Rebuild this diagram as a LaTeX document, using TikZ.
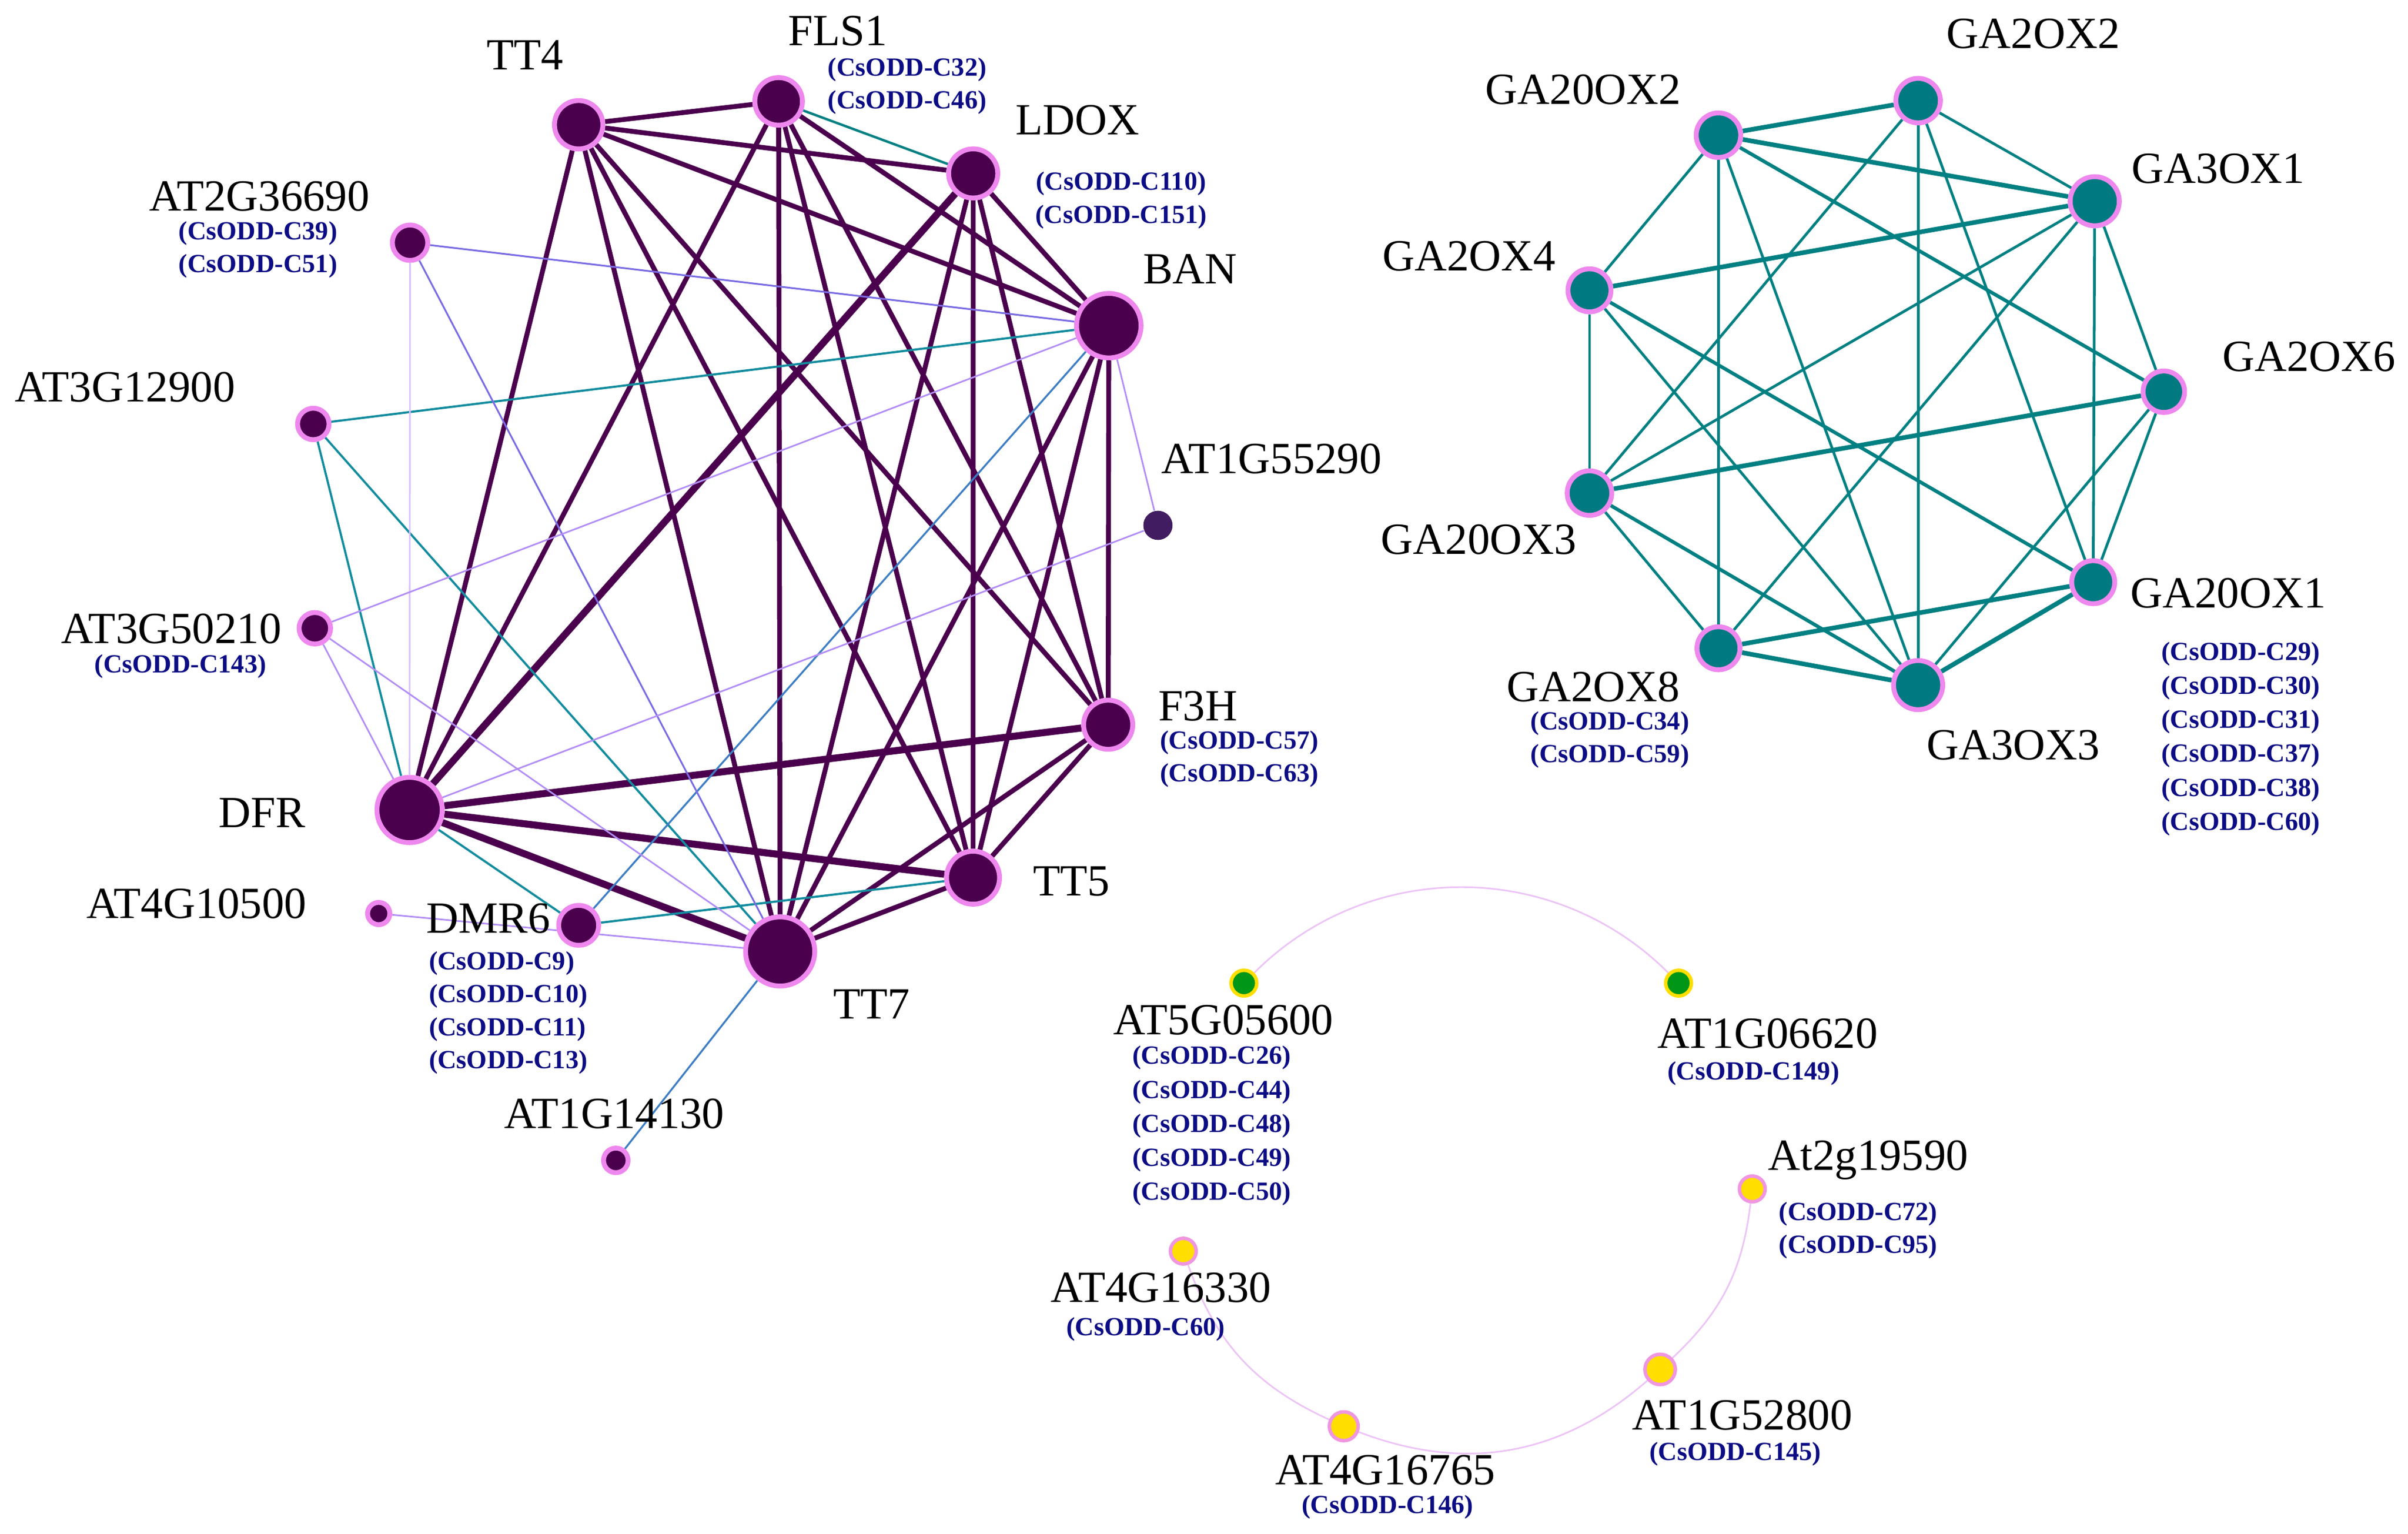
\documentclass[tikz,border=0pt]{standalone}
\usepackage{fontspec}
\setmainfont{Liberation Serif}
\usetikzlibrary{positioning}

\definecolor{plum}{RGB}{75,0,78}
\definecolor{plumlite}{RGB}{66,28,96}
\definecolor{orchid}{RGB}{238,136,238}
\definecolor{gateal}{RGB}{0,122,128}
\definecolor{galine}{RGB}{0,128,130}
\definecolor{tealline}{RGB}{18,140,158}
\definecolor{steel}{RGB}{62,126,196}
\definecolor{violetline}{RGB}{122,108,228}
\definecolor{lavline}{RGB}{178,142,246}
\definecolor{palelav}{RGB}{216,192,255}
\definecolor{leafgreen}{RGB}{0,150,24}
\definecolor{sun}{RGB}{255,222,0}
\definecolor{ringpink}{RGB}{240,150,225}
\definecolor{ringline}{RGB}{236,196,246}
\definecolor{navy}{RGB}{12,12,132}

\pgfdeclarelayer{bg}
\pgfsetlayers{bg,main}

\tikzset{
  gene/.style={circle, inner sep=0pt, fill=plum, draw=orchid, line width=1.8pt, minimum size=#1},
  ga/.style={gene=#1, fill=gateal},
  lone/.style={circle, inner sep=0pt, fill=plumlite, minimum size=#1},
  seed/.style={circle, inner sep=0pt, fill=leafgreen, draw=sun, line width=1.3pt, minimum size=#1},
  bud/.style={circle, inner sep=0pt, fill=sun, draw=ringpink, line width=1.3pt, minimum size=#1},
  lbl/.style={inner sep=0pt, text depth=0pt, font=\fontsize{16.5}{18}\selectfont},
  ids/.style={inner sep=0pt, align=center, text=navy, font=\fontsize{9.7}{12.2}\selectfont\bfseries},
  strong/.style={draw=plum, line width=1.8pt},
  heavy/.style={draw=plum, line width=2.6pt},
  tealedge/.style={draw=tealline, line width=0.8pt},
  steeledge/.style={draw=steel, line width=0.7pt},
  violetedge/.style={draw=violetline, line width=0.65pt},
  lavedge/.style={draw=lavline, line width=0.6pt},
  paleedge/.style={draw=palelav, line width=0.6pt},
  gathin/.style={draw=galine, line width=1pt},
  gamid/.style={draw=galine, line width=1.3pt},
  gabold/.style={draw=galine, line width=1.7pt},
  ringedge/.style={draw=ringline, line width=0.6pt}
}

\begin{document}
\begin{tikzpicture}[x=0.2mm, y=-0.2mm]
\useasboundingbox (0,0) rectangle (1568,998.6);

% flavonoid network
\foreach \n/\x/\y/\d in {TT4/376.8/81.2/6.3mm, FLS1/507/66/6.2mm, LDOX/633.7/112.9/6.4mm,
    BAN/722/212/8.4mm, F3H/721.6/471.8/6.4mm, TT5/633.6/571.4/6.9mm, TT7/508/619.4/9mm,
    DFR/266.7/527.3/8.5mm, DMR6/376.8/602.4/5.2mm, AT4G10500/246.6/594.7/2.9mm,
    AT1G14130/401/755.4/3.2mm, AT3G50210/205/409/4.1mm, AT3G12900/204/276/4.1mm,
    AT2G36690/267/158/4.6mm}
  \node[gene=\d] (\n) at (\x,\y) {};
\node[lone=3.8mm] (AT1G55290) at (754,342) {};

% gibberellin network
\foreach \n/\x/\y/\d in {GA20OX2/1119/88/5.8mm, GA2OX2/1249/65.5/5.8mm, GA3OX1/1364/131/6.4mm,
    GA2OX4/1035/189/5.6mm, GA2OX6/1409/255/5.4mm, GA20OX3/1035/321/5.8mm,
    GA20OX1/1363/379/5.6mm, GA2OX8/1119/422/5.6mm, GA3OX3/1249/446/6.4mm}
  \node[ga=\d] (\n) at (\x,\y) {};

% ring
\node[seed=3.35mm] (AT5G05600) at (810,640) {};
\node[seed=3.35mm] (AT1G06620) at (1093,640) {};
\foreach \n/\x/\y/\d in {At2g19590/1141/774/3.35mm, AT1G52800/1081/891.5/3.95mm,
    AT4G16765/875/928.5/3.75mm, AT4G16330/770.5/814.5/3.35mm}
  \node[bud=\d] (\n) at (\x,\y) {};

% gene names
\foreach \n/\x/\y in {TT4/342/36, FLS1/545.6/20, LDOX/701.6/78, BAN/775/175,
    AT1G55290/828/298.6, F3H/780/459.6, TT5/697.7/573.5, TT7/567.6/653.7,
    DFR/170.6/529, AT4G10500/128/588, DMR6/318/597.8, AT1G14130/400/724.9,
    AT3G50210/111.6/409, AT3G12900/81.4/252, AT2G36690/169/127.6,
    GA2OX2/1324/22, GA20OX2/1031/58, GA3OX1/1444.5/109.7, GA2OX4/956.6/166.7,
    GA2OX6/1503.5/232, GA20OX3/963/351, GA20OX1/1451/386, GA2OX8/1037.5/447,
    GA3OX3/1311/485, AT5G05600/796.6/664, AT1G06620/1151/672.6,
    At2g19590/1216.5/752, AT4G16330/756/838, AT1G52800/1134.5/921,
    AT4G16765/902/956.8}
  \node[lbl] (l\n) at (\x,\y) {\n};

% CsODD members
\node[ids] (iFLS1) at (590.8,56) {(CsODD-C32)\\(CsODD-C46)};
\node[ids] (iLDOX) at (730,130.4) {(CsODD-C110)\\(CsODD-C151)};
\node[ids] (iAT2G36690) at (168,162.5) {(CsODD-C39)\\(CsODD-C51)};
\node[ids] (iAT3G50210) at (117.5,434) {(CsODD-C143)};
\node[ids] (iF3H) at (807,494) {(CsODD-C57)\\(CsODD-C63)};
\node[ids, align=left, anchor=west] (iDMR6) at (279,659.3) {(CsODD-C9)\\(CsODD-C10)\\(CsODD-C11)\\(CsODD-C13)};
\node[ids] (iGA2OX8) at (1048.3,481.7) {(CsODD-C34)\\(CsODD-C59)};
\node[ids, font=\fontsize{9.7}{12.6}\selectfont\bfseries] (iGA20OX1) at (1459,481)
  {(CsODD-C29)\\(CsODD-C30)\\(CsODD-C31)\\(CsODD-C37)\\(CsODD-C38)\\(CsODD-C60)};
\node[ids, font=\fontsize{9.7}{12.6}\selectfont\bfseries] (iAT5G05600) at (789,733)
  {(CsODD-C26)\\(CsODD-C44)\\(CsODD-C48)\\(CsODD-C49)\\(CsODD-C50)};
\node[ids] (iAT1G06620) at (1141.8,699) {(CsODD-C149)};
\node[ids] (iAt2g19590) at (1210,801) {(CsODD-C72)\\(CsODD-C95)};
\node[ids] (iAT4G16330) at (746,865.5) {(CsODD-C60)};
\node[ids] (iAT1G52800) at (1130,946.6) {(CsODD-C145)};
\node[ids] (iAT4G16765) at (903.6,981) {(CsODD-C146)};

\begin{pgfonlayer}{bg}
  \foreach \a/\b in {TT4/FLS1, TT4/LDOX, TT4/BAN, TT4/F3H, TT4/TT5, TT4/TT7, TT4/DFR,
      FLS1/BAN, FLS1/F3H, FLS1/TT5, FLS1/TT7, FLS1/DFR,
      LDOX/BAN, LDOX/F3H, LDOX/TT5, LDOX/TT7,
      BAN/F3H, BAN/TT5, BAN/TT7, F3H/TT5, F3H/TT7, TT5/TT7}
    \draw[strong] (\a) -- (\b);
  \foreach \b in {LDOX, F3H, TT5, TT7}
    \draw[heavy] (DFR) -- (\b);
  \draw[tealedge, draw=galine, line width=0.9pt] (FLS1) -- (LDOX);
  \foreach \a/\b in {AT3G12900/BAN, AT3G12900/DFR, AT3G12900/TT7, DMR6/TT5, DMR6/DFR}
    \draw[tealedge] (\a) -- (\b);
  \draw[steeledge] (BAN) -- (DMR6);
  \draw[steeledge] (TT7) -- (AT1G14130);
  \draw[violetedge] (AT2G36690) -- (BAN);
  \draw[violetedge] (AT2G36690) -- (TT7);
  \draw[paleedge] (AT2G36690) -- (DFR);
  \foreach \a/\b in {AT3G50210/BAN, AT3G50210/DFR, AT3G50210/TT7,
      AT1G55290/BAN, AT1G55290/DFR, AT4G10500/TT7}
    \draw[lavedge] (\a) -- (\b);

  % GA edges
  \foreach \a/\b in {GA20OX2/GA2OX2, GA20OX2/GA3OX1, GA2OX4/GA3OX1, GA20OX3/GA2OX6,
      GA2OX8/GA20OX1, GA2OX8/GA3OX3, GA3OX3/GA20OX1}
    \draw[gabold] (\a) -- (\b);
  \foreach \a/\b in {GA20OX2/GA2OX6, GA20OX3/GA3OX3, GA2OX4/GA20OX1}
    \draw[gamid] (\a) -- (\b);
  \foreach \a/\b in {GA20OX2/GA2OX4, GA20OX2/GA2OX8, GA20OX2/GA3OX3,
      GA2OX2/GA3OX1, GA2OX2/GA20OX3, GA2OX2/GA20OX1, GA2OX2/GA3OX3,
      GA3OX1/GA20OX3, GA3OX1/GA2OX8, GA3OX1/GA20OX1, GA3OX1/GA2OX6,
      GA2OX4/GA20OX3, GA2OX4/GA3OX3, GA20OX3/GA2OX8,
      GA2OX6/GA20OX1, GA2OX6/GA3OX3}
    \draw[gathin] (\a) -- (\b);

  % ring
  \draw[ringedge] (AT5G05600) to[bend left=45] (AT1G06620);
  \draw[ringedge] (At2g19590) to[bend left=20] (AT1G52800);
  \draw[ringedge] (AT1G52800) to[bend left=31] (AT4G16765);
  \draw[ringedge] (AT4G16765) to[bend left=23] (AT4G16330);
\end{pgfonlayer}
\end{tikzpicture}
\end{document}
